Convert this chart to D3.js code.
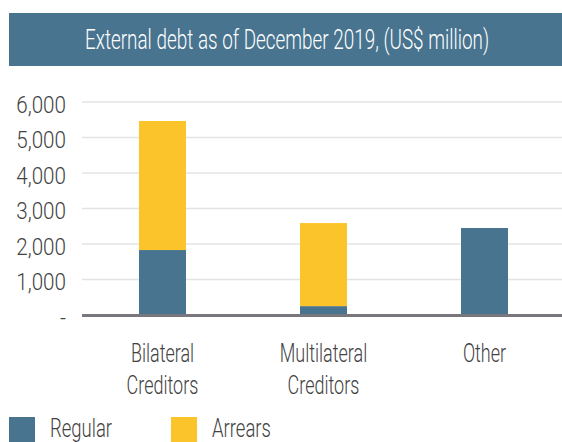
<!DOCTYPE html>
<html>
<head>
<meta charset="utf-8">
<script src="https://cdn.jsdelivr.net/npm/d3@7"></script>
<style>
  html, body { margin: 0; padding: 0; background: #fff; }
  svg { display: block; }
  text { font-family: "Roboto", "Liberation Sans", sans-serif; font-weight: 300; }
</style>
</head>
<body>
<svg id="chart" width="562" height="442"></svg>
<script>
// Data: external debt by creditor type, US$ million
const categories = [["Bilateral", "Creditors"], ["Multilateral", "Creditors"], ["Other"]];
const seriesNames = ["Regular", "Arrears"];
const regular = [1830, 250, 2450];
const arrears = [3635, 2340, 0];
const yTicks = [0, 1000, 2000, 3000, 4000, 5000, 6000];
const title = "External debt as of December 2019, (US$ million)";

const colors = { Regular: "#48748f", Arrears: "#fbc42a" };
const textColor = "#424242";

const svg = d3.select("#chart");
const W = 562;

// Condensed text: draw at (x, y) and squeeze horizontally by factor k
function condensedText(parent, x, y, str, opts) {
  return parent.append("text")
    .attr("transform", `translate(${x},${y}) scale(${opts.k},1)`)
    .attr("text-anchor", opts.anchor || "start")
    .attr("font-size", opts.size)
    .attr("fill", opts.fill || textColor)
    .text(str);
}

// Title banner
svg.append("rect")
  .attr("x", 9).attr("y", 13).attr("width", W - 9).attr("height", 53)
  .attr("fill", "#48748f");
condensedText(svg, 287, 48.5, title, { k: 0.70, size: 27, anchor: "middle", fill: "#ffffff" });

// Scales
const plotLeft = 82, plotRight = 562;
const y = d3.scaleLinear().domain([0, 6000]).range([315, 102]);
const x = d3.scaleBand()
  .domain(categories.map((c, i) => i))
  .range([plotLeft, plotLeft + 483])
  .paddingInner(0).paddingOuter(0);
const barW = x.bandwidth() * 0.292;

// Gridlines
svg.append("g")
  .selectAll("line")
  .data(yTicks.filter(t => t > 0))
  .join("line")
  .attr("x1", plotLeft).attr("x2", plotRight)
  .attr("y1", d => y(d)).attr("y2", d => y(d))
  .attr("stroke", "#e4e4e4").attr("stroke-width", 1.5);

// Y axis labels
const fmt = d => d === 0 ? "-" : d3.format(",")(d);
const gy = svg.append("g");
yTicks.forEach(t => {
  condensedText(gy, 66, y(t) + 10.7, fmt(t), { k: 0.86, size: 24, anchor: "end" });
});

// Stacked bars
const rows = categories.map((c, i) => ({ i, Regular: regular[i], Arrears: arrears[i] }));
const stack = d3.stack().keys(seriesNames)(rows);
svg.append("g")
  .selectAll("g")
  .data(stack)
  .join("g")
  .attr("fill", d => colors[d.key])
  .selectAll("rect")
  .data(d => d.filter(s => s[1] - s[0] > 0))
  .join("rect")
  .attr("x", d => x(d.data.i) + x.bandwidth() / 2 - barW / 2)
  .attr("width", barW)
  .attr("y", d => y(d[1]))
  .attr("height", d => y(d[0]) - y(d[1]));

// Baseline
svg.append("line")
  .attr("x1", plotLeft).attr("x2", plotRight)
  .attr("y1", y(0) + 0.5).attr("y2", y(0) + 0.5)
  .attr("stroke", "#77777d").attr("stroke-width", 3);

// Category labels
const xl = svg.append("g");
categories.forEach((lines, i) => {
  lines.forEach((ln, k) => {
    condensedText(xl, x(i) + x.bandwidth() / 2, 361.5 + k * 32, ln, { k: 0.72, size: 25, anchor: "middle" });
  });
});

// Legend
const legendX = [9, 171];
const lg = svg.append("g");
seriesNames.forEach((name, k) => {
  lg.append("rect")
    .attr("x", legendX[k]).attr("y", 417)
    .attr("width", 26).attr("height", 26)
    .attr("fill", colors[name]);
  condensedText(lg, legendX[k] + 41, 437, name, { k: 0.74, size: 25 });
});
</script>
</body>
</html>
